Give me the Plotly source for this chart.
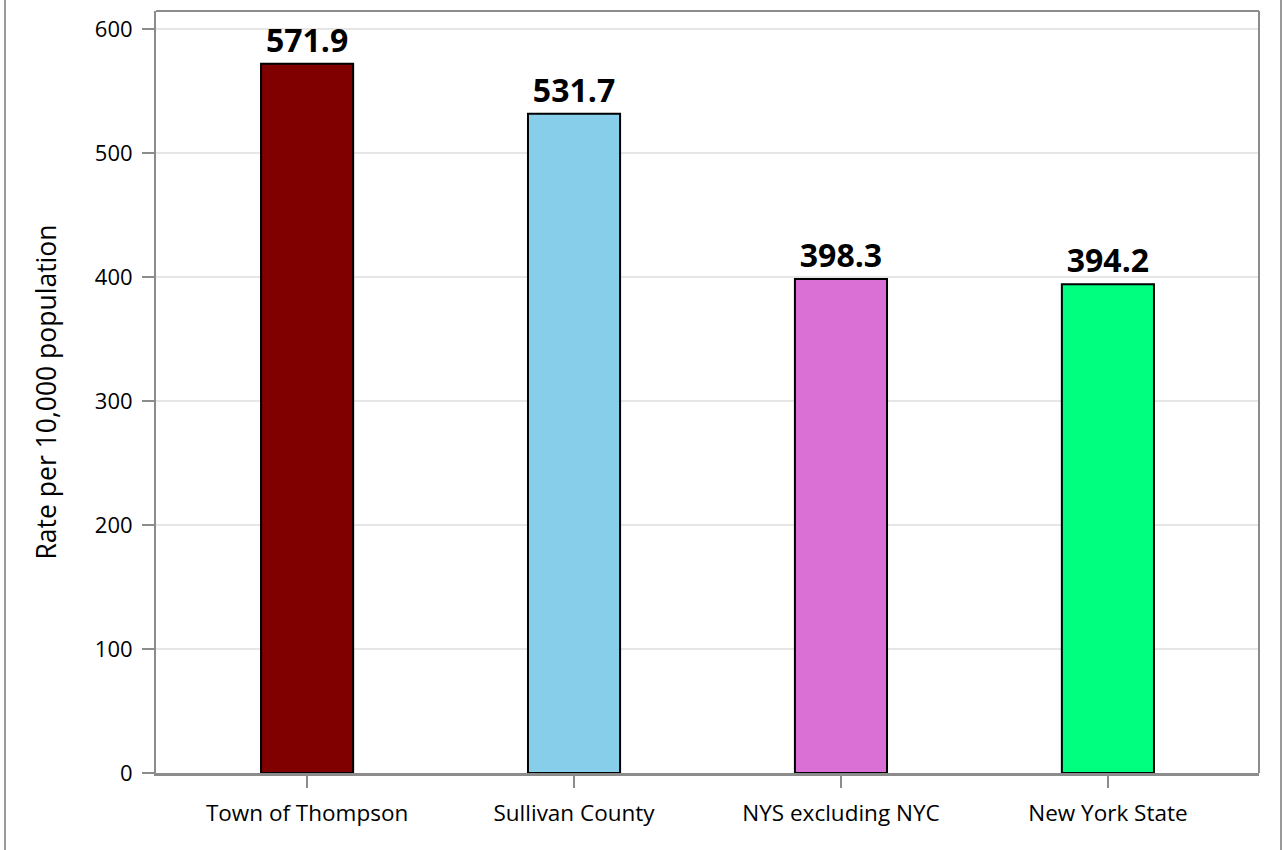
import plotly.graph_objects as go

categories = ["Town of Thompson", "Sullivan County", "NYS excluding NYC", "New York State"]
values = [571.9, 531.7, 398.3, 394.2]
colors = ["#800000", "#87CEEB", "#DA70D6", "#00FF7F"]
y_ticks = [0, 100, 200, 300, 400, 500, 600]

W, H = 1283, 850
ml, mr, mt, mb = 156, 24, 11, 77
pw = W - ml - mr
FONT = "Open Sans, Noto Sans, sans-serif"

fig = go.Figure()
fig.add_trace(go.Bar(
    x=categories, y=values,
    marker=dict(color=colors, line=dict(color="#000000", width=2)),
    width=0.345,
    text=[f"{v:.1f}" for v in values],
    textposition="outside",
    textfont=dict(family=FONT, size=32, color="#000000", weight="bold"),
    cliponaxis=False,
    hoverinfo="x+y",
))

def px2paper(px):
    return (px - ml) / pw

for xp in (5, 1281):
    fig.add_shape(type="line", xref="paper", yref="paper",
                  x0=px2paper(xp), x1=px2paper(xp), y0=-0.2, y1=1.1,
                  line=dict(color="#9a9a9a", width=2))

fig.update_layout(
    width=W, height=H,
    margin=dict(l=ml, r=mr, t=mt, b=mb, autoexpand=False),
    paper_bgcolor="white", plot_bgcolor="white",
    showlegend=False,
    font=dict(family=FONT, size=22, color="#000000"),
    xaxis=dict(
        type="category",
        range=[-0.566, 3.566],
        showline=True, linecolor="#8c8c8c", linewidth=3, mirror=False,
        ticks="outside", ticklen=12, tickcolor="#8c8c8c", tickwidth=2,
        tickfont=dict(size=22.5),
        ticklabelstandoff=6,
        showgrid=False, zeroline=False,
    ),
    yaxis=dict(
        range=[0, 614.5],
        tickvals=y_ticks,
        showline=True, linecolor="#8c8c8c", linewidth=2, mirror=False,
        ticks="outside", ticklen=12, tickcolor="#8c8c8c", tickwidth=2,
        tickfont=dict(size=22),
        ticklabelstandoff=5,
        showgrid=True, gridcolor="#e6e6e6", gridwidth=2,
        zeroline=False,
        title=dict(text="Rate per 10,000 population", font=dict(size=26.5), standoff=31),
    ),
)
# top and right frame lines
fig.add_shape(type="line", xref="paper", yref="paper", x0=0, x1=1, y0=1, y1=1,
              line=dict(color="#8c8c8c", width=2))
fig.add_shape(type="line", xref="paper", yref="paper", x0=1, x1=1, y0=0, y1=1,
              line=dict(color="#8c8c8c", width=2))

fig.write_html("out.html", config={"displayModeBar": False},
               post_script="document.body.style.margin='0';document.body.style.overflow='hidden';")
